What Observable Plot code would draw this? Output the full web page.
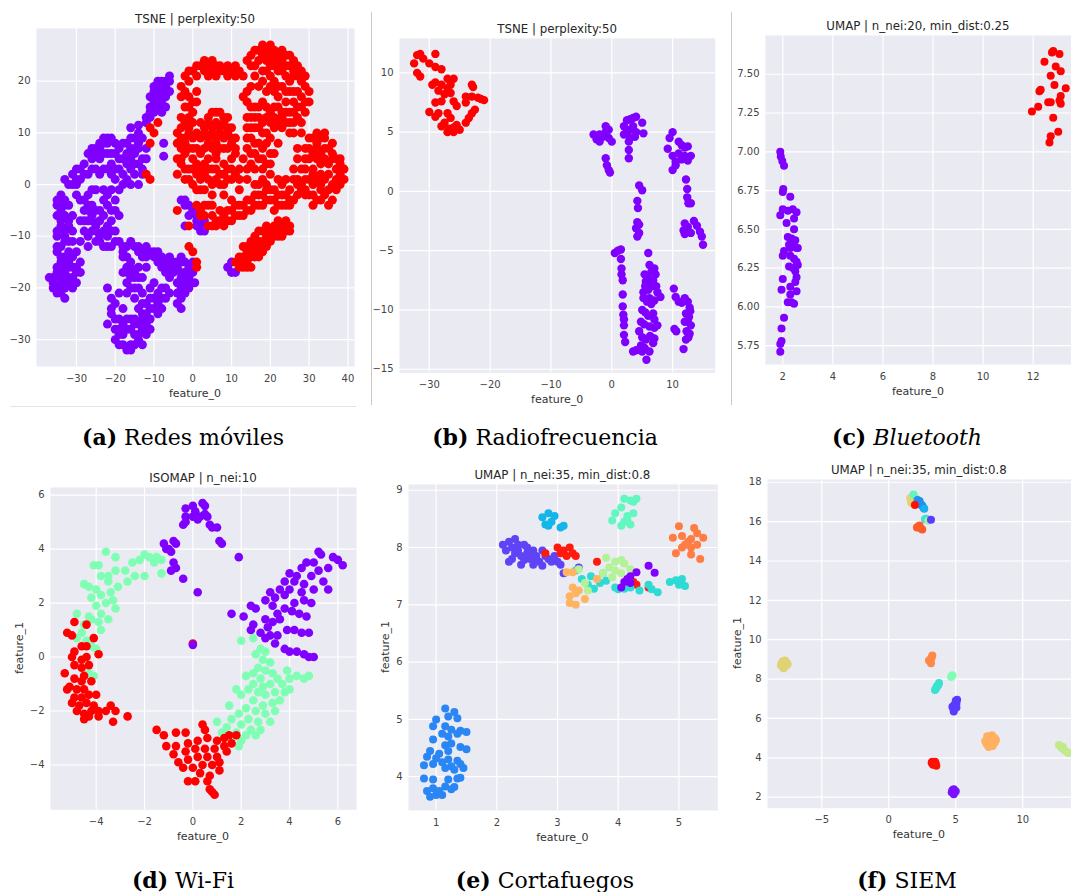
<!DOCTYPE html>
<html><head><meta charset="utf-8">
<script src="https://cdn.jsdelivr.net/npm/d3@7"></script>
<script src="https://cdn.jsdelivr.net/npm/@observablehq/plot@0.6"></script>
<style>
body{margin:0;background:#fff}
#page{position:relative;width:1071px;height:892px;overflow:hidden;font-family:"DejaVu Sans",sans-serif}
.t{position:absolute;transform:translate(-50%,-50%);white-space:nowrap;font-size:11.8px;color:#262626}
.xl{position:absolute;transform:translate(-50%,-50%);white-space:nowrap;font-size:11px;color:#333}
.yl{position:absolute;transform:translate(-50%,-50%) rotate(-90deg);white-space:nowrap;font-size:11px;color:#333}
.cap{position:absolute;transform:translate(-50%,-50%);white-space:nowrap;font-family:"DejaVu Serif",serif;font-size:22px;color:#000}
.vl{position:absolute;width:1px;background:#c8c8c8}
.hl{position:absolute;height:1px;background:#e4e4e4}
</style></head>
<body><div id="page"></div>
<script>
// ---------- DATA ----------
// (a) Redes móviles – TSNE
const aPurple = [
[-34,-2],[-33,-3],[-35,-4],[-32,-4],[-34,-5],[-31,-6],[-33,-6],[-35,-6],[-32,-7],[-34,-8],[-33,-9],[-31,-9],[-35,-10],[-33,-11],[-31,-11],[-34,-12],[-32,-13],[-35,-13],[-33,-14],[-31,-14],[-34,-15],[-32,-16],[-30,-16],[-35,-17],[-33,-17],[-31,-18],[-36,-18],[-34,-19],[-32,-19],[-35,-20],[-33,-20],[-34,-21],[-31,-20],[-30,-19],[-29,-15],[-30,-13],[-29,-17],[-36,-19],[-37,-18],
[-35,-3],[-33,-4],[-34,-7],[-32,-8],[-35,-9],[-33,-10],[-32,-11],[-35,-12],[-34,-14],[-32,-15],[-35,-16],[-33,-16],[-32,-18],[-36,-20],[-34,-18],[-33,-19],[-31,-16],[-30,-17],[-33,-22],[-35,-21],
[-30,-2],[-28,-3],[-27,-2],[-26,-4],[-28,-5],[-26,-6],[-27,-7],[-25,-8],[-26,-9],[-24,-10],[-25,-11],[-24,-5],[-23,-3],[-22,-2],[-23,-6],[-22,-8],[-21,-5],[-20,-3],[-21,-7],[-20,-9],[-19,-6],[-20,-11],[-22,-12],[-19,-1],[-21,-1],[-25,-1],[-28,-9],[-29,-7],[-29,-11],[-27,-12],
[-29,-3],[-27,-4],[-25,-5],[-27,-5],[-26,-7],[-24,-7],[-25,-9],[-23,-9],[-24,-11],[-22,-10],[-22,-4],[-20,-5],[-21,-9],[-23,-1],[-26,-1],[-28,-7],[-27,-10],[-23,-12],[-21,-12],
[-32,0],[-31,2],[-30,3],[-29,1],[-28,4],[-27,2],[-27,6],[-26,5],[-25,7],[-24,8],[-23,9],[-22,8],[-21,9],[-22,6],[-24,5],[-23,3],[-25,3],[-21,4],[-20,6],[-19,7],[-19,3],[-20,1],[-18,5],[-17,8],[-16,7],[-15,9],[-14,10],[-13,9],[-15,6],[-14,4],[-13,2],[-15,2],[-16,3],[-17,1],[-18,0],[-16,0],[-14,0],[-13,5],[-12,7],[-16,11],[-14,11.5],[-33,1],[-30,0],
[-31,0],[-30,1],[-29,3],[-28,2],[-26,3],[-26,7],[-24,7],[-23,6],[-22,9],[-23,8],[-20,8],[-21,6],[-22,3],[-20,3],[-18,2],[-17,4],[-16,5],[-15,4],[-14,7],[-14,8],[-15,7],[-13,3],[-12,5],[-16,9],[-17,6],[-19,5],[-18,8],[-24,2],[-25,6],[-21,2],
[-12,12],[-11,13],[-10,14],[-11,15],[-9,15],[-10,16],[-8,16],[-9,17],[-7,17],[-10,18],[-8,18],[-10,19],[-8,19],[-9,20],[-7,20],[-6,21],[-7,15],[-8,14],[-6,18],
[-11,14],[-10,15],[-9,16],[-11,17],[-9,18],[-9,19],[-8,20],[-7,18],[-7,19],[-6,20],[-12,13],[-8,17],
[-19,-11],[-18,-12],[-16,-11],[-15,-12],[-14,-13],[-12,-12],[-11,-13],[-10,-14],[-9,-13],[-8,-14],[-7,-15],[-6,-14],[-5,-15],[-4,-16],[-3,-14],[-2,-15],[-1,-16],[-3,-17],[-1,-18],[-2,-19],[0,-17],[-4,-19],[-5,-17],[-2,-21],[-3,-22],[-4,-23],[-1,-20],[-6,-18],[-7,-17],[0,-15],[0.5,-19],
[-18,-13],[-17,-12],[-14,-12],[-13,-13],[-12,-14],[-10,-13],[-9,-15],[-8,-16],[-6,-16],[-5,-16],[-4,-15],[-3,-15],[-2,-17],[-1,-17],[-3,-18],[-2,-20],[-3,-20],[-1,-19],[-4,-21],[-3,-24],
[-18,-14],[-17,-16],[-18,-17],[-16,-18],[-17,-19],[-15,-20],[-16,-15],[-14,-16],[-13,-18],[-15,-17],[-12,-16],[-13,-14],
[-17,-14],[-17,-17],[-16,-16],[-15,-18],[-14,-18],[-16,-20],[-14,-20],[-17,-21],[-15,-22],
[-22,-20],[-21,-22],[-20,-23],[-21,-25],[-20,-26],[-22,-27],[-19,-28],[-18,-24],[-17,-26],[-16,-28],[-18,-29],[-15,-26],[-14,-24],[-13,-25],[-12,-23],[-11,-22],[-10,-24],[-9,-21],[-8,-20],[-7,-22],[-6,-21],[-12,-27],[-13,-28],[-11,-26],[-14,-30],[-16,-31],[-17,-32],[-18,-31],[-20,-30],[-15,-29],[-9,-25],[-13,-21],[-10,-19],[-11,-20],[-19,-21],[-8,-24],
[-21,-24],[-20,-28],[-19,-26],[-18,-27],[-17,-28],[-16,-26],[-15,-27],[-14,-27],[-13,-26],[-13,-23],[-12,-25],[-11,-24],[-10,-22],[-9,-23],[-8,-22],[-7,-20],[-12,-29],[-13,-31],[-15,-31],[-19,-29],[-19,-31],[-16,-32],[-14,-29],[-11,-28],
[-3,-3],[-2,-4],[-1,-4],[1,-6],[2,-7],[3,-8],[2,-8],[3,-7],[1,-8],[-2,-8],[-2,-3],[0,-5],[-1,-6],[1,-7],[2,-9],[3,-9],
[9,-16],[10,-17],[11,-17],[10,-15],[-7.5,8],[-7.5,5.5]
];
const aRed = [
[-3,19],[-2,21],[-1,20],[0,22],[1,21],[2,23],[3,22],[4,23],[5,22],[6,23],[7,23],[8,22],[9,23],[10,22],[11,23],[12,22],[-2,18],[-1,17],[0,16],[1,18],[-2,15],[0,14],[13,21],
[-1,22],[1,23],[3,24],[5,24],[7,22],[9,21],[11,21],[-3,17],[-1,15],[1,16],[4,21],[6,21],
[14,24],[15,25],[16,23],[17,26],[18,27],[19,26],[20,27],[21,26],[22,25],[23,24],[24,25],[25,23],[26,24],[27,23],[28,22],[16,21],[18,22],[20,21],[22,22],[24,21],[26,21],[19,24],[21,23],[17,19],[15,19],[19,18],[13,17],[14,18],
[15,23],[17,24],[16,26],[18,25],[19,22],[20,25],[21,24],[22,23],[23,22],[24,23],[25,25],[26,22],[27,21],[28,20],[29,21],[20,23],[18,20],[23,26],[21,20],[25,20],
[23,19],[25,18],[27,18],[29,19],[24,16],[26,16],[28,17],[23,14],[25,14],[27,15],[29,14],[24,12],[26,12],[28,12],[25,10],[22,17],[21,15],[30,16],[22,12],
[24,18],[26,18],[28,15],[29,16],[30,18],[27,13],[25,12],[23,13],[22,15],[26,10],[28,10],[24,14],[26,14],[22,19],[21,18],[20,19],[21,13],[23,11],
[14,16],[16,15],[18,16],[15,13],[17,13],[19,13],[14,11],[16,11],[18,10],[15,9],[17,8],[19,8],[14,7],[16,6],[18,5],[20,4],[15,4],[13,5],[20,9],[21,11],
[15,15],[17,15],[19,15],[14,13],[16,13],[18,12],[20,12],[15,11],[17,11],[19,10],[14,9],[16,8],[18,7],[20,6],[15,6],[17,5],[19,4],[21,6],[14,3],[16,3],[18,3],[22,8],[20,14],
[5,14],[7,14],[4,12],[6,12],[8,12],[3,10],[5,10],[7,10],[9,10],[4,8],[6,8],[8,7],[10,8],[11,9],[3,7],[2,9],[9,13],[10,11],[6,6],[11,6],
[4,13],[6,14],[8,13],[3,11],[5,11],[7,11],[9,11],[4,9],[6,9],[8,9],[10,9],[5,7],[7,7],[9,7],[11,7],
[-3,11],[-2,9],[-4,8],[-3,7],[-1,10],[-2,6],[0,5],[-3,4],[-1,3],[1,2],[-2,1],[0,0],[2,1],[3,4],[1,7],[0,9],[2,12],[-1,13],[-4,5],[1,-1],
[-3,13],[-2,12],[-4,10],[-3,9],[-1,11],[0,12],[-2,8],[-1,7],[-3,5],[-2,3],[0,3],[-1,1],[1,4],[2,6],[0,7],[1,10],[2,3],[-4,2],
[3,2],[5,3],[7,2],[9,3],[4,5],[6,5],[8,4],[10,5],[5,0],[7,0],[9,1],[11,2],[12,3],[3,-1],
[4,1],[6,1],[8,2],[10,1],[4,3],[6,3],[8,0],[10,3],[12,1],[2,-1],[5,-2],[8,-2],
[30,9],[32,8],[34,9],[31,6],[33,6],[35,7],[29,5],[31,3],[33,4],[35,4],[37,3],[38,2],[39,1],[30,1],[32,1],[34,1],[36,0],[37,-1],[28,3],[27,1],[30,-2],[32,-3],[34,-2],[36,-3],[33,-1],[38,5],[36,6],[29,7],[31,-4],[27,7],[39,3],[28,-1],
[31,9],[33,9],[30,7],[32,7],[34,7],[36,8],[30,5],[32,5],[34,5],[36,5],[38,4],[29,3],[31,2],[33,2],[35,2],[37,1],[29,1],[31,0],[33,0],[35,-1],[29,-1],[31,-2],[33,-3],[35,-4],[37,5],[27,5],[26,3],[34,10],[32,10],[38,0],
[2,-5],[3,-6],[4,-4],[5,-6],[6,-7],[7,-5],[8,-6],[9,-7],[10,-5],[11,-6],[12,-4],[13,-6],[14,-5],[15,-3],[16,-4],[17,-2],[18,-4],[19,-3],[20,-1],[21,-3],[22,-2],[23,0],[24,-2],[25,-1],[26,-3],[27,-2],[28,0],[16,0],[18,1],[20,2],[22,1],[24,1],[14,1],[12,-1],[10,-3],[25,-4],[23,-4],[6,-8],[4,-8],[21,-5],
[3,-4],[5,-4],[7,-7],[9,-5],[11,-4],[13,-4],[15,-5],[17,-4],[19,-1],[21,-1],[23,-2],[25,-3],[27,0],[26,1],[24,-4],[22,-4],[20,-3],[18,-2],[16,-2],[14,-3],[12,-6],[10,-7],[8,-8],[5,-8],[29,-2],[19,0],[17,0],
[12,-16],[13,-15],[12,-14],[14,-13],[13,-12],[15,-14],[16,-13],[15,-11],[17,-12],[16,-10],[18,-11],[17,-9],[19,-10],[20,-9],[21,-10],[22,-9],[23,-8],[24,-9],[25,-8],[24,-7],[23,-10],[18,-13],[14,-16],[11,-15],[20,-11],[15,-16],
[12,-15],[14,-15],[13,-14],[15,-13],[14,-12],[16,-12],[17,-11],[16,-14],[19,-12],[18,-9],[19,-8],[20,-10],[21,-8],[22,-10],[23,-9],[24,-8],[25,-9],[22,-7],[13,-16],[17,-14],
[-12,2],[-11,1],[-11,8],[-10,10],[-11,11],[-9,12],[-4,-5],[-1,-8],[1,-4],[2,-6],[-1,-12],[0,-13],[1,-15],[1,-16]
];
// (b) Radiofrecuencia – TSNE
const bRed = [
[-32,11.5],[-31.5,11.6],[-31,11.2],[-30,10.8],[-29,10.5],[-28,10.3],[-29,11.6],[-32.5,10.8],[-32,10],[-31.5,9.7],[-29,9.2],[-28,9],[-27,9.5],[-26,9.5],[-26.5,9],[-28.5,8.5],[-27.5,8.2],[-29,7.5],[-28,7.6],[-26,7.6],[-25.5,7.2],[-27,6.6],[-26.5,6.2],[-28.5,6.6],[-29,6.3],[-27.5,5.8],[-26.8,5.3],[-26,5],[-25,5.2],[-25.5,5.6],[-24,5.8],[-23.5,6.2],[-23,6.6],[-22.5,6.9],[-24,7.5],[-24,8],[-23,8],[-22,7.9],[-21.5,7.8],[-21,7.7],[-23,9],[-22.8,8.8],[-27,8.7],[-26.5,8.3],[-29.5,9],[-28,5.5],[-30,6.7],[-27,5],[-26,5.4]
];
const bPurple = [
[-3,4.8],[-2.5,4.4],[-2,4.2],[-1.5,4.6],[-1,5.5],[-1,5.0],[-0.5,4.5],[0,4.2],[-0.5,5.2],[-2,4.8],[-1,2.8],[-0.8,2.2],[-0.5,1.8],[-0.3,1.6],
[2,5.5],[2.5,6],[3,6.1],[3.5,6.2],[4,6.3],[2.5,5],[3,5.2],[3.5,5.5],[4,5],[2,4.8],[3,4.5],[2.8,4.2],[3.8,4.6],[5,5.8],[5.2,4.9],[2.8,3.5],[2.8,2.8],
[10,5],[9.5,4.5],[9.2,3.6],[10,3],[10.5,2.5],[10,1.8],[11,4.2],[11.5,3.9],[12,3.7],[12.5,3.8],[12,3],[11.5,2.7],[13,3],[12.5,2.6],[11,3.2],[10.5,2.2],
[12.2,1],[12.4,0.2],[12.4,-0.5],[12.6,-1],[13,-1],[12,-2.7],[11.8,-3.3],[12,-3.6],[13,-3.5],[13.5,-2.5],[14,-2.9],[14.5,-3.4],[14.8,-3.8],[15,-4.5],[12.5,-3],
[4.5,0.5],[5,0.1],[4.2,-0.8],[4.3,-1.4],[4.2,-2.6],[4.5,-2.8],[4,-3.1],[4.5,-3.5],[4.2,-3.8],
[0.5,-5.2],[1,-5],[1.5,-4.9],[1.5,-5.7],[1.6,-6.5],[1.6,-7],[1.8,-7.5],[1.8,-8.7],[1.8,-9.7],[1.9,-10.4],[2,-10.8],[2,-11.3],[2,-12.1],[2.2,-12.7],
[6,-5.2],[5.4,-7],[5.8,-7.2],[6.5,-6.8],[7,-6.5],[7.2,-7],[6.8,-7.5],[5.5,-8],[6,-8.3],[6.5,-8],[7.3,-8],[7.5,-8.5],[8,-8.9],[5.2,-9],[5.8,-9.3],[6.5,-9.5],[7,-9.2],[5,-10],[5.5,-10.2],[6,-10.5],[6.8,-10.3],[4.8,-11],[5.3,-11.2],[6.2,-11.4],[7,-11.5],[7.5,-11.3],[4.5,-11.8],[5,-12.3],[5.6,-12.5],[6.3,-12.2],[7,-12.4],[4.8,-13],[5.4,-13.2],[6.2,-13.5],[5,-13.5],[3.5,-13.5],[4,-13.4],[5.7,-14.2],[6.8,-12.8],[6.2,-6.2],[5.6,-7.6],[5.2,-8.5],[6.2,-9],[7,-10.8],
[10.2,-8.2],[10.5,-8.9],[11,-9.3],[11.5,-9.4],[12,-9],[12.5,-9.3],[12.8,-9.8],[12.2,-10.3],[12.7,-10.6],[12.5,-11],[13,-11.3],[12.3,-11.8],[12.8,-12],[12.2,-12.5],[11.8,-13.3],[10.3,-11.6],[10.6,-11.8],[12,-11],[12.6,-12.3],[12.9,-10.1]
];
// (c) Bluetooth – UMAP
const cPurple = [
[1.9,7.0],[1.92,6.97],[1.98,6.94],[2.05,6.91],[2.02,6.76],[2.0,6.74],[2.3,6.71],[2.0,6.63],[1.9,6.59],[2.2,6.62],[2.4,6.63],[2.55,6.61],[2.45,6.57],[2.15,6.54],[2.45,6.50],[2.2,6.45],[2.35,6.44],[2.5,6.43],[2.6,6.38],[2.3,6.38],[2.45,6.40],[2.05,6.36],[2.0,6.33],[2.3,6.33],[2.45,6.31],[2.55,6.29],[2.6,6.27],[2.25,6.26],[2.4,6.25],[2.5,6.23],[2.55,6.19],[2.5,6.16],[2.0,6.18],[1.95,6.11],[2.3,6.13],[2.55,6.10],[2.3,6.08],[2.2,6.03],[2.35,6.03],[2.45,6.02],[2.05,5.93],[1.95,5.86],[1.95,5.78],[1.9,5.76],[1.9,5.71],[2.55,6.38],[2.25,6.4]
];
const cRed = [
[12.75,7.64],[12.8,7.65],[13.05,7.63],[12.45,7.58],[12.9,7.55],[13.1,7.52],[12.7,7.49],[12.85,7.43],[13.3,7.41],[12.3,7.40],[12.25,7.39],[13.1,7.36],[13.05,7.33],[12.6,7.32],[12.7,7.32],[13.1,7.31],[12.2,7.29],[11.95,7.26],[12.8,7.22],[13.0,7.13],[12.7,7.10],[12.65,7.06]
];
// (d) Wi-Fi – ISOMAP
const dGreen = [
[-3.6,3.9],[-3.2,3.7],[-4.1,3.4],[-3.9,3.4],[-3.5,3.0],[-2.0,3.8],[-1.8,3.7],[-2.2,3.6],[-1.5,3.7],[-1.3,3.6],[-2.5,3.5],[-1.6,3.5],[-2.8,3.2],[-3.2,3.2],[-3.8,3.0],[-3.5,2.8],[-3.1,2.6],[-2.7,2.8],[-2.4,3.0],[-2.0,3.0],[-1.3,3.1],[-4.5,2.7],[-4.3,2.6],[-4.0,2.5],[-3.8,2.3],[-3.4,2.4],[-4.2,2.2],[-3.6,2.0],[-3.2,1.8],[-4.0,1.9],[-3.8,1.6],[-3.5,1.4],[-4.2,1.4],[-4.5,1.2],[-4.8,1.6],[-3.8,1.0],[-4.6,0.9],[-4.8,0.7],[-4.4,0.6],[-4.2,0.4],[-4.0,0.3],[-4.3,-0.6],[-4.1,-0.7],[-3.9,1.3],[-4.3,1.5],[-3.3,2.1],
[2.0,0.6],[2.5,0.7],[2.8,0.3],[3.0,0.2],[2.6,0.1],[2.9,-0.1],[3.2,-0.2],[2.7,-0.4],[3.0,-0.5],[3.3,-0.6],[2.5,-0.6],[2.2,-0.7],[2.8,-0.8],[3.5,-0.8],[2.5,-1.0],[2.9,-1.1],[3.2,-1.0],[3.7,-1.0],[4.0,-0.8],[4.3,-0.7],[4.6,-0.8],[4.8,-0.7],[2.3,-1.2],[2.7,-1.3],[3.0,-1.4],[3.4,-1.3],[3.8,-1.3],[1.8,-1.2],[2.0,-1.4],[2.5,-1.6],[2.9,-1.8],[3.3,-1.7],[3.6,-1.6],[2.2,-1.9],[2.6,-2.0],[3.0,-2.1],[3.4,-2.0],[1.5,-1.8],[1.9,-2.1],[2.3,-2.3],[2.7,-2.4],[3.2,-2.4],[1.6,-2.3],[2.0,-2.5],[2.4,-2.7],[2.8,-2.7],[1.0,-2.4],[1.4,-2.6],[1.8,-2.8],[2.2,-2.9],[2.6,-2.9],[1.2,-2.8],[1.6,-3.0],[2.0,-3.1],[1.9,-3.3],[4.0,-1.2],[3.9,-0.5]
];
const dRed = [
[-4.9,1.3],[-5.2,0.9],[-5.0,0.8],[-4.4,1.2],[-4.6,0.4],[-4.4,0.4],[-4.9,0.2],[-5.0,0.0],[-4.6,-0.1],[-4.4,0.0],[-4.1,0.7],[-3.9,0.1],[-4.9,-0.3],[-4.6,-0.4],[-4.3,-0.3],[-4.5,-0.7],[-5.3,-0.6],[-4.9,-0.8],[-4.6,-0.9],[-4.2,-0.9],[-5.1,-1.1],[-4.8,-1.2],[-4.5,-1.2],[-5.2,-1.2],[-4.9,-1.5],[-4.6,-1.5],[-4.3,-1.4],[-4.0,-1.4],[-5.0,-1.7],[-4.7,-1.8],[-4.4,-1.7],[-4.1,-1.8],[-4.8,-2.0],[-4.5,-2.1],[-4.2,-2.0],[-3.9,-2.0],[-3.6,-2.0],[-3.4,-1.8],[-3.2,-2.0],[-4.5,-2.3],[-4.3,-2.2],[-3.9,-2.2],[-3.3,-2.4],[-2.7,-2.2],
[-1.5,-2.7],[-1.2,-2.9],[-0.7,-2.8],[-0.3,-2.8],[0.4,-2.5],[0.5,-2.7],[-1.1,-3.3],[-0.7,-3.3],[-0.2,-3.2],[0.2,-3.1],[0.6,-3.0],[1.0,-3.1],[1.3,-3.0],[1.5,-2.9],[1.8,-2.9],[-0.8,-3.6],[-0.3,-3.5],[0.1,-3.4],[0.5,-3.4],[0.9,-3.4],[1.3,-3.3],[1.6,-3.2],[-0.6,-3.9],[-0.2,-3.8],[0.2,-3.7],[0.6,-3.7],[1.0,-3.7],[1.4,-3.5],[-0.4,-4.1],[0.0,-4.1],[0.4,-4.0],[0.8,-4.0],[1.1,-3.9],[0.3,-4.3],[0.7,-4.4],[1.1,-4.2],[-0.2,-4.6],[0.1,-4.6],[0.6,-4.6],[0.7,-4.9],[0.8,-5.0],[0.9,-5.1],
[0,0.5]
];
const dPurple = [
[0.4,5.7],[0.5,5.6],[0.0,5.6],[-0.3,5.5],[0.1,5.4],[0.5,5.3],[-0.3,5.2],[0.0,5.2],[0.3,5.2],[0.6,5.2],[-0.3,5.0],[0.2,5.1],[0.7,4.9],[-0.4,4.9],[0.8,4.8],[1.0,4.8],[1.1,4.3],[1.2,4.2],
[-1.2,4.2],[-1.0,4.0],[-0.8,4.3],[-0.7,4.2],[-0.9,3.9],[-1.1,4.0],[-0.8,3.5],[-0.9,3.2],[-0.7,3.3],[-0.4,2.9],[0.2,2.4],[1.6,1.6],[1.9,3.7],
[5.2,3.9],[5.3,3.8],[5.8,3.7],[6.0,3.6],[6.2,3.4],[5.6,3.3],[5.0,3.5],[4.7,3.5],[4.5,3.3],[5.2,3.2],[4.9,3.0],[5.4,2.8],[4.3,3.0],[4.0,3.1],[4.2,2.8],[4.6,2.7],[5.0,2.5],[3.8,2.8],[3.6,2.5],[4.0,2.5],[4.5,2.4],[3.2,2.4],[3.4,2.2],[3.0,2.1],[3.8,2.3],[4.2,2.0],[4.6,2.1],[4.1,1.7],[3.8,1.8],[4.4,1.6],[4.7,1.5],[3.5,1.6],[2.6,1.8],[2.4,1.9],[2.1,1.5],[3.0,1.4],[3.3,1.3],[3.1,1.1],[3.6,1.4],[2.5,1.2],[2.8,0.9],[2.4,1.0],[3.2,0.8],[3.5,0.8],[3.9,1.0],[4.2,1.0],[4.5,0.9],[4.8,0.9],[3.0,0.7],[3.4,0.5],[3.8,0.3],[4.0,0.2],[4.3,0.2],[4.6,0.1],[4.8,0.0],[5.0,0.0],[5.6,2.5],[4.9,2.0],[3.3,1.9],
[0,0.45]
];
// (e) Cortafuegos – UMAP (one array per class)
const eBlue = [[1.15,5.19],[1.3,5.13],[1.0,5.0],[1.2,5.05],[1.35,5.02],[0.95,4.88],[1.15,4.88],[1.25,4.82],[1.4,4.8],[1.5,4.78],[1.1,4.75],[1.2,4.7],[1.35,4.75],[0.95,4.65],[1.15,4.55],[1.25,4.58],[1.4,4.52],[0.9,4.45],[1.05,4.4],[1.2,4.45],[1.5,4.48],[0.85,4.35],[1.0,4.32],[1.2,4.3],[1.35,4.28],[0.8,4.2],[0.95,4.22],[1.1,4.25],[1.25,4.18],[1.4,4.22],[1.45,4.15],[1.3,4.12],[1.15,4.15],[0.8,3.97],[0.95,3.95],[1.2,3.95],[1.35,3.97],[1.4,3.98],[0.85,3.75],[0.95,3.8],[1.05,3.75],[1.15,3.83],[1.25,3.78],[1.0,3.68],[1.1,3.68],[0.9,3.65],[1.3,3.82]];
const eSky = [[2.75,8.53],[2.85,8.6],[2.9,8.45],[2.8,8.4],[2.95,8.55],[3.05,8.35],[3.1,8.38],[2.85,8.38]];
const eAqua = [[4.1,8.85],[4.2,8.82],[4.25,8.8],[4.05,8.7],[3.95,8.6],[4.15,8.55],[4.25,8.6],[4.1,8.45],[3.9,8.47],[4.2,8.4],[4.05,8.38],[4.15,8.5],[4.3,8.85]];
const eOrange = [[5.0,8.37],[5.25,8.34],[4.9,8.17],[5.05,8.2],[5.2,8.15],[5.3,8.25],[5.4,8.17],[5.1,8.05],[5.2,8.0],[5.3,8.05],[4.95,7.9],[5.2,7.88],[5.35,7.8],[5.15,8.1],[5.05,8.0]];
const eViolet = [[2.1,8.05],[2.2,8.1],[2.3,8.15],[2.25,8.0],[2.35,8.05],[2.45,8.05],[2.5,8.0],[2.15,7.95],[2.3,7.9],[2.4,7.85],[2.5,7.9],[2.6,7.95],[2.65,7.85],[2.75,7.95],[2.8,7.85],[2.25,7.8],[2.4,7.7],[2.55,7.8],[2.7,7.75],[2.85,7.8],[2.9,7.75],[3.0,7.75],[3.05,7.7],[2.95,7.85],[2.2,7.75],[2.6,7.7],[2.75,7.68],[3.1,7.55],[3.35,7.65],[2.35,7.95],[2.55,7.87],[2.45,7.78],[2.65,7.8]];
const eRed = [[3.0,8.0],[3.1,7.95],[3.2,8.0],[3.15,7.85],[3.25,7.9],[3.3,7.85],[3.05,7.9],[2.8,7.9],[3.65,7.75],[4.25,7.4],[4.3,7.35],[4.5,7.3]];
const eTurq = [[3.4,7.45],[3.5,7.35],[3.6,7.28],[3.7,7.38],[3.8,7.42],[3.95,7.3],[4.0,7.27],[4.1,7.28],[4.2,7.3],[4.35,7.25],[4.5,7.35],[4.55,7.27],[4.65,7.22],[4.85,7.4],[4.95,7.43],[5.0,7.35],[5.1,7.33],[5.05,7.45],[3.55,7.5],[3.75,7.55],[3.3,7.6]];
const eLime = [[3.8,7.82],[3.95,7.75],[4.05,7.78],[4.1,7.72],[3.85,7.65],[3.95,7.6],[4.05,7.55],[4.2,7.62],[3.75,7.55],[3.9,7.48],[3.35,7.62],[3.45,7.38],[3.5,7.25]];
const ePeach = [[3.25,7.3],[3.35,7.25],[3.2,7.15],[3.3,7.2],[3.45,7.1],[3.2,7.03],[3.3,7.0],[3.15,7.57],[3.25,7.57],[3.65,7.45]];
const ePurple = [[4.5,7.68],[4.6,7.56],[4.3,7.57],[4.2,7.5],[4.15,7.45],[4.1,7.4],[4.05,7.3],[4.2,7.38]];
// (f) SIEM – UMAP (one array per class)
const fKhaki = [[-7.9,8.9],[-7.7,8.9],[-7.8,8.75],[-7.95,8.7],[-7.65,8.7],[-7.8,8.6],[-7.7,8.8],[-7.9,8.6],[-8.0,8.8],[-7.6,8.8],[-7.75,8.95],[-7.85,8.55],[-7.55,8.75],[-8.05,8.7],[1.75,17.2],[1.65,17.05],[1.9,17.0],[2.0,17.2],[1.8,17.3],[1.6,17.2],[1.7,16.95],[1.95,17.15]];
const fAqua = [[1.85,17.38]];
const fBlue = [[2.2,17.0],[2.35,16.9],[2.5,16.8],[2.6,16.7],[2.3,17.05],[2.15,17.1],[2.45,16.85]];
const fSky = [[2.65,16.65]];
const fRed = [[1.95,16.85],[3.25,3.8],[3.4,3.7],[3.5,3.72],[3.3,3.65],[3.45,3.8],[3.2,3.75],[3.55,3.6]];
const fTurq = [[2.7,16.12],[2.8,16.15],[3.5,7.5],[3.6,7.65],[3.7,7.7],[3.55,7.55],[3.45,7.45],[3.75,7.8]];
const fLime = [[2.95,16.05]];
const fViolet = [[3.15,16.1],[4.85,6.45],[5.0,6.9],[4.9,6.7],[4.8,6.55],[5.05,6.75],[4.95,6.6],[4.75,6.6],[5.1,6.95],[4.85,6.35],[5.05,6.55]];
const fCoral = [[2.2,15.75],[2.4,15.65],[2.3,15.8],[2.1,15.7],[2.5,15.6]];
const fOrange = [[3.1,9.0],[3.2,9.1],[3.1,8.9],[3.0,8.95],[3.25,9.2],[3.15,8.8]];
const fGreen = [[4.7,8.15],[4.75,8.2],[4.65,8.1]];
const fPeach = [[7.5,4.9],[7.8,4.8],[7.3,4.7],[7.6,5.1],[7.9,4.75],[7.4,5.0],[7.6,4.65],[7.2,4.85],[7.45,4.55],[7.75,4.6],[8.0,4.9],[7.7,5.15],[7.35,5.1],[7.55,4.8],[7.9,5.0]];
const fOlive = [[12.8,4.6],[13.1,4.4],[13.3,4.3],[12.9,4.5],[12.7,4.65],[13.4,4.25],[13.0,4.55]];
const fPurple = [[4.8,2.3],[4.9,2.25],[4.75,2.35],[4.7,2.25],[5.0,2.3],[4.85,2.4],[4.85,2.15]];

// tick values
const aXTicks = [-30,-20,-10,0,10,20,30,40], aYTicks = [-30,-20,-10,0,10,20];
const bXTicks = [-30,-20,-10,0,10], bYTicks = [-15,-10,-5,0,5,10];
const cXTicks = [2,4,6,8,10,12], cYTicks = [5.75,6.00,6.25,6.50,6.75,7.00,7.25,7.50];
const dXTicks = [-4,-2,0,2,4,6], dYTicks = [-4,-2,0,2,4,6];
const eXTicks = [1,2,3,4,5], eYTicks = [4,5,6,7,8,9];
const fXTicks = [-5,0,5,10], fYTicks = [2,4,6,8,10,12,14,16,18];

// ---------- STYLES / LAYOUT ----------
const COL = {purple:"#8000ff", red:"#ff0000", green:"#80ffb4"};
const page = document.getElementById("page");
const rows = (pairs, cls) => pairs.map(([x,y]) => ({x, y, cls}));
const minus = d => (d < 0 ? "\u2212" + Math.abs(d) : String(d));

function addDiv(cls, html, x, y) {
  const d = document.createElement("div");
  d.className = cls; d.innerHTML = html;
  d.style.left = x + "px"; d.style.top = y + "px";
  page.appendChild(d);
}

function panel(cfg) {
  const [x0, x1, y0, y1] = cfg.frame;
  const ml = 45, mb = 30;
  const data = cfg.series.flatMap(s => rows(s.pts, s.cls));
  const svg = Plot.plot({
    width: (x1 - x0) + ml, height: (y1 - y0) + mb,
    marginLeft: ml, marginRight: 0, marginTop: 0, marginBottom: mb,
    x: {domain: cfg.xd, label: null},
    y: {domain: cfg.yd, label: null},
    color: {domain: cfg.series.map(s => s.cls), range: cfg.series.map(s => s.color)},
    style: {fontFamily: "DejaVu Sans, sans-serif", fontSize: "10px", color: "#444", background: "transparent", overflow: "visible"},
    marks: [
      Plot.frame({fill: "#eaeaf2", stroke: "none"}),
      Plot.gridX(cfg.xt, {stroke: "#fff", strokeOpacity: 1, strokeWidth: 1.2}),
      Plot.gridY(cfg.yt, {stroke: "#fff", strokeOpacity: 1, strokeWidth: 1.2}),
      Plot.axisX(cfg.xt, {tickSize: 0, tickPadding: 8, tickFormat: cfg.fx || minus, label: null}),
      Plot.axisY(cfg.yt, {tickSize: 0, tickPadding: 6, tickFormat: cfg.fy || minus, label: null}),
      Plot.dot(data, {x: "x", y: "y", fill: "cls", r: cfg.r || 4, stroke: "none"})
    ]
  });
  svg.style.position = "absolute";
  svg.style.left = (x0 - ml) + "px";
  svg.style.top = y0 + "px";
  page.appendChild(svg);
  const cx = (x0 + x1) / 2;
  addDiv("t", cfg.title, cx, y0 - 9);
  addDiv("xl", "feature_0", cx, y1 + 26.5);
  if (cfg.ylab) addDiv("yl", "feature_1", cfg.ylab, (y0 + y1) / 2);
}

panel({frame: [36, 354, 28, 366], xd: [-40.3, 41.7], yd: [-35.2, 30.2], xt: aXTicks, yt: aYTicks, r: 4.5,
  title: "TSNE | perplexity:50",
  series: [{pts: aPurple, cls: "0", color: COL.purple}, {pts: aRed, cls: "1", color: COL.red}]});
panel({frame: [399.3, 715, 37.7, 372], xd: [-34.9, 17.0], yd: [-15.3, 12.9], xt: bXTicks, yt: bYTicks, r: 4.2,
  title: "TSNE | perplexity:50",
  series: [{pts: bRed, cls: "1", color: COL.red}, {pts: bPurple, cls: "0", color: COL.purple}]});
panel({frame: [765, 1071, 35, 364], xd: [1.31, 13.53], yd: [5.628, 7.75], xt: cXTicks, yt: cYTicks,
  fy: d => d.toFixed(2), title: "UMAP | n_nei:20, min_dist:0.25",
  series: [{pts: cPurple, cls: "0", color: COL.purple}, {pts: cRed, cls: "1", color: COL.red}]});
panel({frame: [50, 356, 486.7, 809], xd: [-5.89, 6.77], yd: [-5.66, 6.28], xt: dXTicks, yt: dYTicks, r: 4.3,
  title: "ISOMAP | n_nei:10", ylab: 19,
  series: [{pts: dGreen, cls: "1", color: COL.green}, {pts: dRed, cls: "2", color: COL.red}, {pts: dPurple, cls: "0", color: COL.purple}]});
panel({frame: [407.7, 717, 484, 810], xd: [0.545, 5.64], yd: [3.41, 9.1], xt: eXTicks, yt: eYTicks,
  title: "UMAP | n_nei:35, min_dist:0.8", ylab: 385,
  series: [
    {pts: eBlue, cls: "blue", color: "#2a86f4"}, {pts: eSky, cls: "sky", color: "#12b6ea"},
    {pts: eAqua, cls: "aqua", color: "#62f7c0"}, {pts: eOrange, cls: "orange", color: "#ff7d44"},
    {pts: eViolet, cls: "violet", color: "#5e44f6"}, {pts: eRed, cls: "red", color: "#ff1a0d"},
    {pts: eTurq, cls: "turq", color: "#2edbd4"}, {pts: eLime, cls: "lime", color: "#b3f296"},
    {pts: ePeach, cls: "peach", color: "#ffb462"}, {pts: ePurple, cls: "purple", color: "#8000ff"}]});
panel({frame: [766.7, 1071, 479, 807.7], xd: [-9.05, 13.66], yd: [1.44, 18.14], xt: fXTicks, yt: fYTicks,
  title: "UMAP | n_nei:35, min_dist:0.8", ylab: 737,
  series: [
    {pts: fKhaki, cls: "khaki", color: "#e0d375"}, {pts: fAqua, cls: "aqua", color: "#62f7c0"},
    {pts: fBlue, cls: "blue", color: "#2090f0"}, {pts: fSky, cls: "sky", color: "#18b0f0"},
    {pts: fRed, cls: "red", color: "#ff1000"}, {pts: fTurq, cls: "turq", color: "#3ae3d0"},
    {pts: fLime, cls: "lime", color: "#a8f0a0"}, {pts: fViolet, cls: "violet", color: "#5a3cff"},
    {pts: fCoral, cls: "coral", color: "#ff5a2a"}, {pts: fOrange, cls: "orange", color: "#ff8947"},
    {pts: fGreen, cls: "green", color: "#80ffb4"}, {pts: fPeach, cls: "peach", color: "#ffb060"},
    {pts: fOlive, cls: "olive", color: "#c2ea8c"}, {pts: fPurple, cls: "purple", color: "#7a10ff"}]});

// separators of the pasted sub-figures
[[371, 12, 393], [731, 12, 393]].forEach(([x, y, h]) => {
  const d = document.createElement("div"); d.className = "vl";
  d.style.left = x + "px"; d.style.top = y + "px"; d.style.height = h + "px"; page.appendChild(d);
});
{ const d = document.createElement("div"); d.className = "hl";
  d.style.left = "10px"; d.style.top = "406px"; d.style.width = "346px"; page.appendChild(d); }

// captions
addDiv("cap", "<b>(a)</b> Redes móviles", 183, 437);
addDiv("cap", "<b>(b)</b> Radiofrecuencia", 545, 437);
addDiv("cap", "<b>(c)</b> <i>Bluetooth</i>", 907, 437);
addDiv("cap", "<b>(d)</b> Wi-Fi", 183, 880);
addDiv("cap", "<b>(e)</b> Cortafuegos", 545, 880);
addDiv("cap", "<b>(f)</b> SIEM", 907, 880);
</script>
</body></html>
